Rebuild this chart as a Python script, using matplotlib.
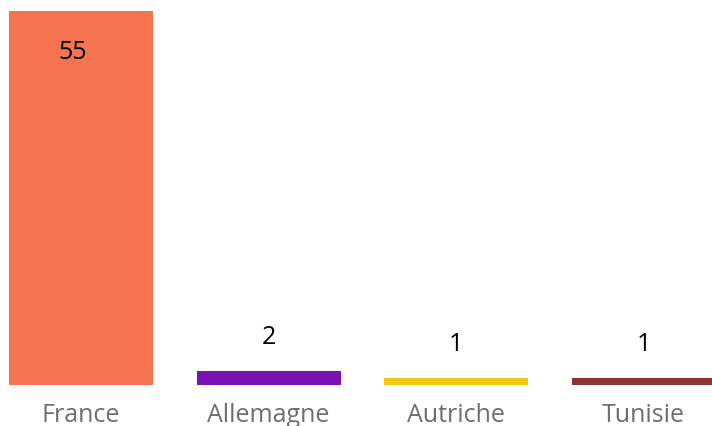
import numpy as np
from matplotlib import pyplot as plt

pays = ["France", "Allemagne", "Autriche", "Tunisie"]
valeurs = [55, 2, 1, 1]
couleurs = ["#F4744F", "#7A10B6", "#F2C80F", "#8B3535"]

fig = plt.figure(figsize=(7.12, 4.27), dpi=100)
ax = fig.add_axes([0, 1 - 386 / 427, 1, 386 / 427])

x = np.arange(len(pays))
bars = ax.bar(x, valeurs, width=0.768, color=couleurs)

ax.set_xlim(-0.432, 3.365)
ax.set_ylim(0, 56.76)

# 55 goes inside the bar, the small ones above
for b, v in zip(bars, valeurs):
    cx = b.get_x() + b.get_width() / 2
    if v > 10:
        ax.annotate(str(v), (cx, v), xytext=(-8, -28), textcoords="offset pixels",
                    ha="center", va="top", fontsize=18, family="Open Sans", color="black")
    else:
        ax.annotate(str(v), (cx, v), xytext=(0, 22), textcoords="offset pixels",
                    ha="center", va="bottom", fontsize=18, family="Open Sans", color="black")

ax.set_xticks(x)
ax.set_xticklabels(pays, fontsize=18, family="Open Sans", color="#6e6e6e")
ax.tick_params(axis="x", length=0, pad=12)
ax.set_yticks([])
for s in ax.spines.values():
    s.set_visible(False)

fig.savefig("out.png", dpi=100)
